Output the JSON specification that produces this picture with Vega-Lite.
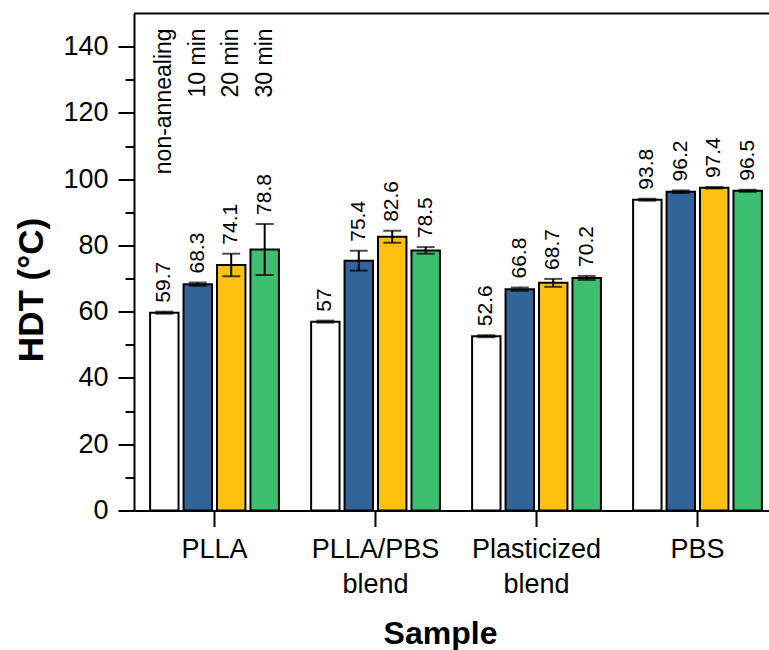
{
  "$schema": "https://vega.github.io/schema/vega-lite/v6.json",
  "width": 635,
  "height": 497,
  "autosize": {"type": "none"},
  "padding": {"left": 134, "top": 13.5, "right": 0, "bottom": 139.5},
  "config": {
    "font": "Liberation Sans",
    "view": {"stroke": null},
    "axis": {"grid": false, "domainColor": "black", "domainWidth": 2, "tickColor": "black", "tickWidth": 2, "labelColor": "black", "titleColor": "black"}
  },
  "data": {
    "values": [
      {"Sample": "PLLA", "group": "non-annealing", "value": 59.7, "lo": 59.4, "hi": 60.0},
      {"Sample": "PLLA", "group": "10 min", "value": 68.3, "lo": 67.8, "hi": 68.8},
      {"Sample": "PLLA", "group": "20 min", "value": 74.1, "lo": 70.7, "hi": 77.5},
      {"Sample": "PLLA", "group": "30 min", "value": 78.8, "lo": 71.1, "hi": 86.5},
      {"Sample": "PLLA/PBS blend", "group": "non-annealing", "value": 57, "lo": 56.7, "hi": 57.3},
      {"Sample": "PLLA/PBS blend", "group": "10 min", "value": 75.4, "lo": 72.4, "hi": 78.4},
      {"Sample": "PLLA/PBS blend", "group": "20 min", "value": 82.6, "lo": 80.8, "hi": 84.4},
      {"Sample": "PLLA/PBS blend", "group": "30 min", "value": 78.5, "lo": 77.5, "hi": 79.5},
      {"Sample": "Plasticized blend", "group": "non-annealing", "value": 52.6, "lo": 52.3, "hi": 52.9},
      {"Sample": "Plasticized blend", "group": "10 min", "value": 66.8, "lo": 66.3, "hi": 67.3},
      {"Sample": "Plasticized blend", "group": "20 min", "value": 68.7, "lo": 67.5, "hi": 69.9},
      {"Sample": "Plasticized blend", "group": "30 min", "value": 70.2, "lo": 69.6, "hi": 70.8},
      {"Sample": "PBS", "group": "non-annealing", "value": 93.8, "lo": 93.5, "hi": 94.1},
      {"Sample": "PBS", "group": "10 min", "value": 96.2, "lo": 95.8, "hi": 96.6},
      {"Sample": "PBS", "group": "20 min", "value": 97.4, "lo": 97.2, "hi": 97.6},
      {"Sample": "PBS", "group": "30 min", "value": 96.5, "lo": 96.2, "hi": 96.8}
    ]
  },
  "resolve": {"axis": {"y": "independent"}},
  "layer": [
    {
      "mark": {"type": "bar", "stroke": "black", "strokeWidth": 2},
      "encoding": {
        "x": {"field": "Sample", "type": "nominal", "sort": ["PLLA", "PLLA/PBS blend", "Plasticized blend", "PBS"],
          "scale": {"range": [0, 644], "paddingInner": 0.2, "paddingOuter": 0.1},
          "axis": {"labelAngle": 0, "labelFontSize": 27, "labelPadding": 10, "tickSize": 16, "labelLineHeight": 35,
            "labelExpr": "split(datum.label, ' ')", "labelBaseline": "top",
            "title": "Sample", "titleFontSize": 32, "titleFontWeight": "bold", "titleX": 306, "titleY": 108, "titleBaseline": "top"}},
        "xOffset": {"field": "group", "type": "nominal", "sort": ["non-annealing", "10 min", "20 min", "30 min"], "scale": {"paddingInner": 0.15, "paddingOuter": 0}},
        "y": {"field": "value", "type": "quantitative", "scale": {"domain": [0, 150], "nice": false},
          "axis": {"orient": "left", "values": [0, 20, 40, 60, 80, 100, 120, 140], "tickSize": 16, "labelFontSize": 27, "labelPadding": 10,
            "title": "HDT (°C)", "titleFontSize": 35, "titleFontWeight": "bold", "titleX": -85, "titleY": 276}},
        "color": {"field": "group", "type": "nominal", "sort": ["non-annealing", "10 min", "20 min", "30 min"],
          "scale": {"domain": ["non-annealing", "10 min", "20 min", "30 min"], "range": ["#ffffff", "#31659a", "#fec10f", "#3dbf70"]}, "legend": null}
      }
    },
    {
      "mark": {"type": "rule", "color": "black", "strokeWidth": 2},
      "encoding": {
        "x": {"field": "Sample", "type": "nominal", "sort": ["PLLA", "PLLA/PBS blend", "Plasticized blend", "PBS"]},
        "xOffset": {"field": "group", "type": "nominal", "sort": ["non-annealing", "10 min", "20 min", "30 min"]},
        "y": {"field": "lo", "type": "quantitative",
          "axis": {"orient": "left", "values": [10, 30, 50, 70, 90, 110, 130], "tickSize": 9, "labels": false, "domain": false, "title": null}},
        "y2": {"field": "hi"}
      }
    },
    {
      "mark": {"type": "tick", "color": "black", "thickness": 2, "size": 18},
      "encoding": {
        "x": {"field": "Sample", "type": "nominal", "sort": ["PLLA", "PLLA/PBS blend", "Plasticized blend", "PBS"]},
        "xOffset": {"field": "group", "type": "nominal", "sort": ["non-annealing", "10 min", "20 min", "30 min"]},
        "y": {"field": "hi", "type": "quantitative", "axis": null}
      }
    },
    {
      "mark": {"type": "tick", "color": "black", "thickness": 2, "size": 18},
      "encoding": {
        "x": {"field": "Sample", "type": "nominal", "sort": ["PLLA", "PLLA/PBS blend", "Plasticized blend", "PBS"]},
        "xOffset": {"field": "group", "type": "nominal", "sort": ["non-annealing", "10 min", "20 min", "30 min"]},
        "y": {"field": "lo", "type": "quantitative", "axis": null}
      }
    },
    {
      "mark": {"type": "text", "angle": 270, "align": "left", "baseline": "middle", "dx": 9, "fontSize": 21, "color": "black"},
      "encoding": {
        "x": {"field": "Sample", "type": "nominal", "sort": ["PLLA", "PLLA/PBS blend", "Plasticized blend", "PBS"]},
        "xOffset": {"field": "group", "type": "nominal", "sort": ["non-annealing", "10 min", "20 min", "30 min"]},
        "y": {"field": "hi", "type": "quantitative", "axis": null},
        "text": {"field": "value", "type": "nominal"}
      }
    },
    {
      "transform": [{"filter": "datum.Sample == 'PLLA'"}],
      "mark": {"type": "text", "angle": 270, "align": "right", "baseline": "middle", "fontSize": 23, "color": "black"},
      "encoding": {
        "x": {"field": "Sample", "type": "nominal", "sort": ["PLLA", "PLLA/PBS blend", "Plasticized blend", "PBS"]},
        "xOffset": {"field": "group", "type": "nominal", "sort": ["non-annealing", "10 min", "20 min", "30 min"]},
        "y": {"datum": 145.5, "type": "quantitative", "axis": null},
        "text": {"field": "group", "type": "nominal"}
      }
    },
    {
      "data": {"values": [{}]},
      "mark": {"type": "rule", "color": "black", "strokeWidth": 2},
      "encoding": {
        "y": {"datum": 150, "type": "quantitative", "axis": null}
      }
    }
  ]
}
